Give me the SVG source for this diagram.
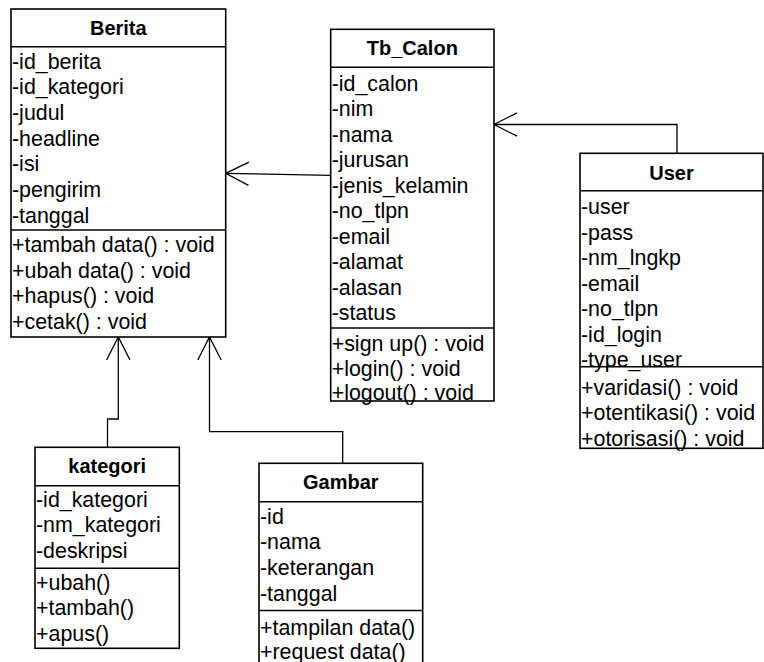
<svg xmlns="http://www.w3.org/2000/svg" width="764" height="662" viewBox="0 0 764 662">
  <style>
    .box { fill: #ffffff; stroke: #000000; stroke-width: 1.6; }
    .sep { stroke: #000000; stroke-width: 1.6; }
    .title { font-family: "Liberation Sans", Arial, sans-serif; font-size: 20px; font-weight: bold; text-anchor: middle; fill: #000000; }
    .item { font-family: "Liberation Sans", Arial, sans-serif; font-size: 21.4px; fill: #000000; }
    .link { fill: none; stroke: #000000; stroke-width: 1.3; marker-end: url(#open); }
  </style>
  <defs>
    <marker id="open" markerUnits="userSpaceOnUse" viewBox="-26 -14 28 28" markerWidth="28" markerHeight="28" refX="0" refY="0" orient="auto" overflow="visible">
      <path d="M -23,-11.7 L 0,0 L -23,11.7" fill="none" stroke="#000000" stroke-width="1.3"/>
    </marker>
  </defs>

  <rect width="764" height="662" fill="#ffffff"/>

  <!-- associations -->
  <g id="connectors">
    <polyline class="link" points="330.7,175.3 225.7,173.3"/>
    <polyline class="link" points="677,153.3 677,124.5 494,124.5"/>
    <polyline class="link" points="107.5,447.3 107.5,419 118.3,419 118.3,337"/>
    <polyline class="link" points="342.7,463.3 342.7,431.7 209.5,431.7 209.5,337"/>
  </g>

  <!-- Berita -->
  <g id="berita">
    <rect class="box" x="11" y="9" width="214.7" height="328"/>
    <line class="sep" x1="11" y1="46.7" x2="225.7" y2="46.7"/>
    <line class="sep" x1="11" y1="230" x2="225.7" y2="230"/>
    <text class="title" x="118.3" y="34.5">Berita</text>
    <text class="item" x="12" y="68.5">-id_berita</text>
    <text class="item" x="12" y="94.2">-id_kategori</text>
    <text class="item" x="12" y="119.9">-judul</text>
    <text class="item" x="12" y="145.6">-headline</text>
    <text class="item" x="12" y="171.3">-isi</text>
    <text class="item" x="12" y="197">-pengirim</text>
    <text class="item" x="12" y="222.5">-tanggal</text>
    <text class="item" x="12" y="252">+tambah data() : void</text>
    <text class="item" x="12" y="277.5">+ubah data() : void</text>
    <text class="item" x="12" y="303">+hapus() : void</text>
    <text class="item" x="12" y="328.5">+cetak() : void</text>
  </g>

  <!-- Tb_Calon -->
  <g id="tb_calon">
    <rect class="box" x="330.7" y="29.3" width="163.3" height="371.7"/>
    <line class="sep" x1="330.7" y1="67.3" x2="494" y2="67.3"/>
    <line class="sep" x1="330.7" y1="328" x2="494" y2="328"/>
    <text class="title" x="412.3" y="55.3">Tb_Calon</text>
    <text class="item" x="331.7" y="90.5">-id_calon</text>
    <text class="item" x="331.7" y="116">-nim</text>
    <text class="item" x="331.7" y="141.5">-nama</text>
    <text class="item" x="331.7" y="167">-jurusan</text>
    <text class="item" x="331.7" y="192.5">-jenis_kelamin</text>
    <text class="item" x="331.7" y="218">-no_tlpn</text>
    <text class="item" x="331.7" y="243.5">-email</text>
    <text class="item" x="331.7" y="269">-alamat</text>
    <text class="item" x="331.7" y="294.5">-alasan</text>
    <text class="item" x="331.7" y="320">-status</text>
    <text class="item" x="331.7" y="351">+sign up() : void</text>
    <text class="item" x="331.7" y="375.5">+login() : void</text>
    <text class="item" x="331.7" y="399.5">+logout() : void</text>
  </g>

  <!-- User -->
  <g id="user">
    <rect class="box" x="580" y="153.3" width="183" height="295"/>
    <line class="sep" x1="580" y1="190.7" x2="763" y2="190.7"/>
    <line class="sep" x1="580" y1="366.7" x2="763" y2="366.7"/>
    <text class="title" x="671.5" y="179.5">User</text>
    <text class="item" x="581" y="214">-user</text>
    <text class="item" x="581" y="239.5">-pass</text>
    <text class="item" x="581" y="265">-nm_lngkp</text>
    <text class="item" x="581" y="290.5">-email</text>
    <text class="item" x="581" y="316">-no_tlpn</text>
    <text class="item" x="581" y="341.5">-id_login</text>
    <text class="item" x="581" y="366.5">-type_user</text>
    <text class="item" x="581" y="394.5">+varidasi() : void</text>
    <text class="item" x="581" y="420">+otentikasi() : void</text>
    <text class="item" x="581" y="445.5">+otorisasi() : void</text>
  </g>

  <!-- kategori -->
  <g id="kategori">
    <rect class="box" x="35" y="447.3" width="144.3" height="201"/>
    <line class="sep" x1="35" y1="485.7" x2="179.3" y2="485.7"/>
    <line class="sep" x1="35" y1="568.3" x2="179.3" y2="568.3"/>
    <text class="title" x="107.2" y="472.5">kategori</text>
    <text class="item" x="36" y="506.7">-id_kategori</text>
    <text class="item" x="36" y="532.2">-nm_kategori</text>
    <text class="item" x="36" y="557.7">-deskripsi</text>
    <text class="item" x="36" y="589.5">+ubah()</text>
    <text class="item" x="36" y="615">+tambah()</text>
    <text class="item" x="36" y="640.5">+apus()</text>
  </g>

  <!-- Gambar -->
  <g id="gambar">
    <rect class="box" x="259" y="463.3" width="163.7" height="215"/>
    <line class="sep" x1="259" y1="501.7" x2="422.7" y2="501.7"/>
    <line class="sep" x1="259" y1="610.5" x2="422.7" y2="610.5"/>
    <text class="title" x="340.8" y="489.3">Gambar</text>
    <text class="item" x="260" y="523.5">-id</text>
    <text class="item" x="260" y="549.2">-nama</text>
    <text class="item" x="260" y="574.9">-keterangan</text>
    <text class="item" x="260" y="600.5">-tanggal</text>
    <text class="item" x="260" y="634.5">+tampilan data()</text>
    <text class="item" x="260" y="658.5">+request data()</text>
  </g>
</svg>
